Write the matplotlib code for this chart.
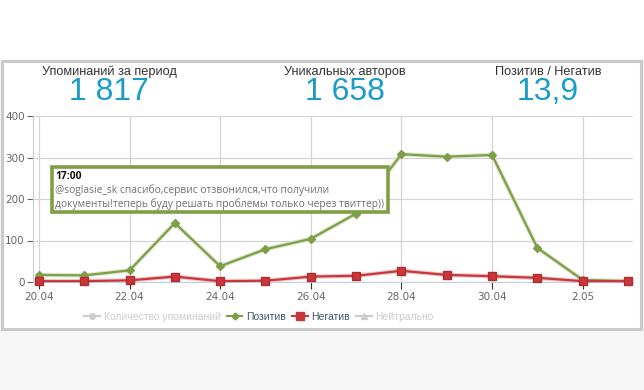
import matplotlib
matplotlib.use('Agg')
import matplotlib.pyplot as plt
from matplotlib.patches import Rectangle
from matplotlib.lines import Line2D

# data
dates=['20.04','21.04','22.04','23.04','24.04','25.04','26.04','27.04','28.04','29.04','30.04','1.05','2.05','3.05']
positive=[17,16,28,142,38,79,104,165,308,302,306,82,5,2]
negative=[2,2,4,13,2,3,13,15,27,17,14,10,2,2]
stat_titles=['Упоминаний за период','Уникальных авторов','Позитив / Негатив']
stat_values=['1 817','1 658','13,9']
tip_time='17:00'
tip_lines=['@soglasie_sk спасибо,сервис отзвонился,что получили',
           'документы!теперь буду решать проблемы только через твиттер))']
legend_names=['Количество упоминаний','Позитив','Негатив','Нейтрально']

GREEN='#7f9f47'
RED='#c7373b'
BLUE='#1a9ccb'

W,H=644,390
fig=plt.figure(figsize=(W/100.,H/100.),dpi=100,facecolor='#f6f6f6')

def fx(px):return px/float(W)
def fy(py):return 1-py/float(H)

# page background and panel
fig.patches.append(Rectangle((0,fy(60)),1,1-fy(60),transform=fig.transFigure,fc='white',ec='none',zorder=-2))
fig.patches.append(Rectangle((fx(2),fy(329)),fx(639),fy(61)-fy(329),transform=fig.transFigure,
                             fc='white',ec='#c9c9c9',lw=2.2,zorder=-1))

# header stats
for i,(t,v) in enumerate(zip(stat_titles,stat_values)):
    cx=[109,345,548][i]
    fig.text(fx(cx),fy(72),t,ha='center',va='center',fontsize=9.2,color='#333333',family='Liberation Sans')
    fig.text(fx(cx),fy(92),v,ha='center',va='center',fontsize=23,color=BLUE,family='Liberation Sans')

ax=fig.add_axes([fx(33),fy(282),fx(600),fy(116)-fy(282)])
ax.set_facecolor('none')
x=list(range(len(dates)))

ax.plot(x,positive,color='#dde6cf',lw=3.2,zorder=2)
ax.plot(x,positive,color=GREEN,lw=1.6,marker='D',ms=3.6,mfc=GREEN,mec=GREEN,zorder=4,clip_on=False)
ax.plot(x,negative,color='#efcaca',lw=3.2,zorder=2)
ax.plot(x,negative,color=RED,lw=1.6,marker='s',ms=5.8,mfc=RED,mec='#b02c30',zorder=5,clip_on=False)

ax.set_xlim(-0.13,13.11)
ax.set_ylim(0,400)
ax.set_yticks([0,100,200,300,400])
ax.set_xticks(x[::2])
ax.set_xticklabels(dates[::2])
ax.grid(True,color='#d4d4d4',lw=0.9)
ax.set_axisbelow(True)
for s in ['top','right']:ax.spines[s].set_visible(False)
ax.spines['left'].set_color('#c0d0e0')
ax.spines['bottom'].set_color('#c0d0e0')
ax.tick_params(axis='y',length=4,width=0.8,color='#666666',labelcolor='#666666',labelsize=7.5,pad=2)
ax.tick_params(axis='x',length=5,width=0.8,color='#333333',labelcolor='#666666',labelsize=7.5,pad=2)
for lab in ax.get_xticklabels()+ax.get_yticklabels():lab.set_family('DejaVu Sans')

# tooltip, drawn inside the axes so it sits over the lines
ax.add_patch(Rectangle((fx(52),fy(212)),fx(336),fy(167)-fy(212),transform=fig.transFigure,
                       fc='white',ec=GREEN,lw=2.6,zorder=10,clip_on=False))
ax.text(fx(55),fy(177),tip_time,fontsize=7.4,weight='bold',color='#111111',va='center',
        family='Open Sans',zorder=11,transform=fig.transFigure)
for k,line in enumerate(tip_lines):
    ax.text(fx(55),fy(190+14*k),line,fontsize=7.35,color='#707070',va='center',
            family='Open Sans',zorder=11,transform=fig.transFigure)

# legend
handles=[Line2D([],[],color='#cccccc',marker='o',ms=4,lw=1.5),
         Line2D([],[],color=GREEN,marker='D',ms=3.5,lw=1.5),
         Line2D([],[],color=RED,marker='s',ms=5.5,lw=1.5),
         Line2D([],[],color='#cccccc',marker='^',ms=5,lw=1.5)]
leg=fig.legend(handles,legend_names,loc='center',bbox_to_anchor=(fx(259),fy(317)),ncol=4,frameon=False,
               handlelength=1.5,handletextpad=0.35,columnspacing=0.6,prop={'family':'Liberation Sans','size':7.5})
for t,c in zip(leg.get_texts(),['#cccccc','#3e576f','#3e576f','#cccccc']):t.set_color(c)

fig.savefig('out.png',dpi=100,facecolor=fig.get_facecolor())
